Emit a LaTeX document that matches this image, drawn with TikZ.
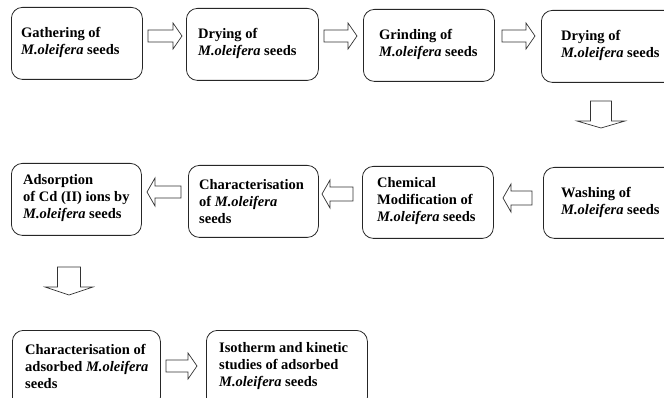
\documentclass[tikz,border=0pt]{standalone}
\usepackage{fontspec}
\setmainfont{Liberation Serif}
\usetikzlibrary{calc}
\begin{document}
\begin{tikzpicture}[x=1pt,y=-1pt,
  box/.style={draw=black!85, line width=0.8pt, rounded corners=11pt, anchor=north west, inner sep=0pt},
  lbl/.style={anchor=west, align=left, inner sep=0pt, font=\bfseries\fontsize{14.5}{17}\selectfont},
  blk/.style={draw=black!80, line width=0.7pt, fill=white, line join=miter}]
\useasboundingbox (0,0) rectangle (664,398);
\clip (0,0) rectangle (664,398);
% row 1
\node[box, minimum width=131pt, minimum height=72pt] (b1) at (11,7) {};
\node[box, minimum width=132pt, minimum height=72pt] (b2) at (186,8) {};
\node[box, minimum width=131pt, minimum height=72pt] (b3) at (363,9) {};
\node[box, minimum width=140pt, minimum height=72pt] (b4) at (541,10) {};
\node[lbl] (t1) at ($(b1.west)+(10,-1)$) {Gathering of\\\textit{M.oleifera} seeds};
\node[lbl] (t2) at ($(b2.west)+(12,-1)$) {Drying of\\\textit{M.oleifera} seeds};
\node[lbl] (t3) at ($(b3.west)+(16,-1)$) {Grinding of\\\textit{M.oleifera} seeds};
\node[lbl] (t4) at ($(b4.west)+(20,-1)$) {Drying of\\\textit{M.oleifera} seeds};
% row 2
\node[box, minimum width=130pt, minimum height=72pt] (b5) at (11,163) {};
\node[box, minimum width=130pt, minimum height=72pt] (b6) at (188,165) {};
\node[box, minimum width=131pt, minimum height=72pt] (b7) at (362,166) {};
\node[box, minimum width=140pt, minimum height=71pt] (b8) at (543,167) {};
\node[lbl] (t5) at ($(b5.west)+(12,-1)$) {Adsorption\\of Cd (II) ions by\\\textit{M.oleifera} seeds};
\node[lbl] (t6) at ($(b6.west)+(11,0)$) {Characterisation\\of \textit{M.oleifera}\\seeds};
\node[lbl] (t7) at ($(b7.west)+(15,-1)$) {Chemical\\Modification of\\\textit{M.oleifera} seeds};
\node[lbl] (t8) at ($(b8.west)+(18,0)$) {Washing of\\\textit{M.oleifera} seeds};
% row 3
\node[box, minimum width=148pt, minimum height=78pt] (b9) at (12,330) {};
\node[box, minimum width=161pt, minimum height=78pt] (b10) at (206,330) {};
\node[lbl] (t9) at ($(b9.west)+(13,-3)$) {Characterisation of\\adsorbed \textit{M.oleifera}\\seeds};
\node[lbl] (t10) at ($(b10.west)+(13,-3)$) {Isotherm and kinetic\\studies of adsorbed\\\textit{M.oleifera} seeds};
% right arrows
\draw[blk, shift={(148,36)}] (0,-6) -- (25,-6) -- (25,-13) -- (34,0) -- (25,13) -- (25,6) -- (0,6) -- cycle;
\draw[blk, shift={(324,36)}] (0,-6) -- (24,-6) -- (24,-13) -- (33,0) -- (24,13) -- (24,6) -- (0,6) -- cycle;
\draw[blk, shift={(502,36)}] (0,-6) -- (24,-6) -- (24,-13) -- (33,0) -- (24,13) -- (24,6) -- (0,6) -- cycle;
\draw[blk, shift={(166,366)}] (0,-6) -- (22,-6) -- (22,-13) -- (31,0) -- (22,13) -- (22,6) -- (0,6) -- cycle;
% left arrows
\draw[blk, shift={(147,192)}] (0,0) -- (8,-14) -- (8,-6) -- (34,-6) -- (34,6) -- (8,6) -- (8,14) -- cycle;
\draw[blk, shift={(322,194)}] (0,0) -- (8,-14) -- (8,-7) -- (31,-7) -- (31,7) -- (8,7) -- (8,14) -- cycle;
\draw[blk, shift={(503,198)}] (0,0) -- (8,-14) -- (8,-7) -- (29,-7) -- (29,7) -- (8,7) -- (8,14) -- cycle;
% down arrows
\draw[blk, shift={(601,101)}] (-10.5,0) -- (10.5,0) -- (10.5,20) -- (24,20) -- (0,27) -- (-24,20) -- (-10.5,20) -- cycle;
\draw[blk, shift={(69,267)}] (-11.5,0) -- (11.5,0) -- (11.5,20) -- (24,20) -- (0,28) -- (-24,20) -- (-11.5,20) -- cycle;
\end{tikzpicture}
\end{document}
